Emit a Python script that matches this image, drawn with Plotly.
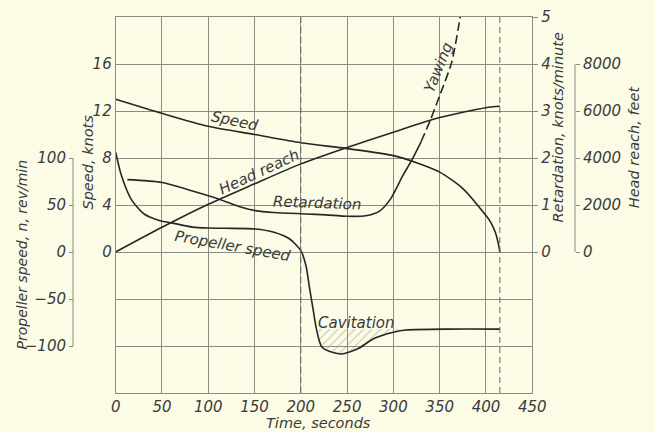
import numpy as np
import plotly.graph_objects as go

# ---------------- data ----------------
speed_t = [0, 50, 100, 150, 200, 250, 300, 325, 350, 375, 400, 405, 410, 413, 415]
speed_kn = [13.0, 11.8, 10.7, 10.0, 9.3, 8.8, 8.2, 7.6, 6.8, 5.4, 3.1, 2.55, 1.7, 0.85, 0.0]

reach_t = [0, 50, 100, 150, 200, 250, 300, 350, 400, 415]
reach_ft = [0, 1050, 2030, 2900, 3750, 4450, 5100, 5720, 6140, 6200]

retard_t = [12.6, 50, 83, 111, 136, 151, 171, 206, 227, 250, 270, 285, 297, 310, 320, 330,
            340, 351, 363, 373]
retard_kpm = [1.54, 1.48, 1.30, 1.13, 0.95, 0.88, 0.84, 0.81, 0.79, 0.76, 0.77, 0.87, 1.13,
              1.62, 1.96, 2.35, 2.81, 3.38, 4.04, 5.10]
yawing_from_t = 330

prop_t = [0, 6.3, 16.8, 30.7, 48, 60.5, 83, 101, 118, 151, 171, 188, 200, 205.6, 209, 212.6,
          217.5, 222.7, 235, 244, 261.5, 279, 300, 314, 360, 415]
prop_rpm = [106, 81, 56, 40.4, 33.3, 31, 26.5, 25.5, 25.2, 24.5, 21, 13.8, 1.4, -14.6, -35.8,
            -57, -85, -101, -107, -108.5, -103, -92, -85.4, -83, -82, -82]
cavitation_level = -82

dashed_times = [200, 415]

x_ticks = list(range(0, 451, 50))
speed_ticks = [0, 4, 8, 12, 16]
prop_ticks = [-100, -50, 0, 50, 100]
retard_ticks = [0, 1, 2, 3, 4, 5]
reach_ticks = [0, 2000, 4000, 6000, 8000]

# ---------------- style ----------------
BG = "#fcfbe6"
INK = "#262626"
TXT = "#3a3a3a"
GRID = "#8c8c84"
FONT = "DejaVu Sans"

W, H = 655, 432
L_PX, R_PX, T_PX, B_PX = 114, 543, 17, 393
def px_x(px):
    return px / W
def px_y(py):
    return (B_PX - py) / (B_PX - T_PX)

tf = dict(family=FONT, size=15, color=TXT, style="italic")

fig = go.Figure()

line = dict(color=INK, width=1.6, shape="spline", smoothing=0.7)

fig.add_trace(go.Scatter(x=speed_t, y=speed_kn, mode="lines", line=line, yaxis="y"))
fig.add_trace(go.Scatter(x=reach_t, y=reach_ft, mode="lines", line=line, yaxis="y4"))

rt = np.array(retard_t); rv = np.array(retard_kpm)
solid = rt <= yawing_from_t
dash = rt >= yawing_from_t
fig.add_trace(go.Scatter(x=rt[solid], y=rv[solid], mode="lines", line=line, yaxis="y3"))
fig.add_trace(go.Scatter(x=rt[dash], y=rv[dash], mode="lines",
                         line=dict(color=INK, width=1.6, dash="9px,4px", shape="spline", smoothing=0.7),
                         yaxis="y3"))

# cavitation hatch between the curve and the cavitation level
pt = np.array(prop_t, float); pv = np.array(prop_rpm, float)
fine_t = np.linspace(pt.min(), pt.max(), 3000)
fine_v = np.interp(fine_t, pt, pv)
mask = fine_v < cavitation_level - 0.5
ct = fine_t[mask]; cv = fine_v[mask]
fig.add_trace(go.Scatter(x=ct, y=[cavitation_level] * len(ct), mode="lines",
                         line=dict(width=0, color="rgba(0,0,0,0)"), yaxis="y2"))
fig.add_trace(go.Scatter(x=ct, y=cv, mode="lines", fill="tonexty",
                         line=dict(width=0, color="rgba(0,0,0,0)"),
                         fillcolor="rgba(0,0,0,0)",
                         fillpattern=dict(shape="/", fgcolor="#8f8f88", bgcolor="rgba(0,0,0,0)",
                                          size=6, solidity=0.18),
                         yaxis="y2"))
fig.add_trace(go.Scatter(x=prop_t, y=prop_rpm, mode="lines", line=line, yaxis="y2"))

shapes = []
for t in dashed_times:
    shapes.append(dict(type="line", xref="x", yref="paper", x0=t, x1=t, y0=0, y1=1,
                       line=dict(color="#666", width=1, dash="6px,4px")))
shapes.append(dict(type="line", xref="paper", yref="y2", x0=px_x(70), x1=px_x(70),
                   y0=min(prop_ticks), y1=max(prop_ticks), line=dict(color=GRID, width=1)))
shapes.append(dict(type="line", xref="paper", yref="y4", x0=px_x(587), x1=px_x(587),
                   y0=min(reach_ticks), y1=max(reach_ticks), line=dict(color=GRID, width=1)))

ann = []
def lab(text, x, y, angle=0, size=15):
    ann.append(dict(text=text, x=x, y=y, xref="x", yref="y", showarrow=False,
                    xanchor="center", yanchor="middle", textangle=angle,
                    font=dict(family=FONT, size=size, color=TXT, style="italic")))
lab("Speed", 129, 11.15, 12)
lab("Head reach", 155, 6.8, -25)
lab("Retardation", 218, 4.17, 2)
lab("Propeller speed", 126, 0.5, 10)
lab("Cavitation", 260, -6.0, 0)
lab("Yawing", 348, 15.7, -68)

def title(text, px, py, angle, size=14.5):
    ann.append(dict(text=text, x=px_x(px), y=px_y(py), xref="paper", yref="paper",
                    showarrow=False, textangle=angle, xanchor="center", yanchor="middle",
                    font=dict(family=FONT, size=size, color=TXT, style="italic")))
title("Propeller speed, n, rev/min", 17, 255, -90, 14)
title("Speed, knots", 85, 162, -90)
title("Retardation, knots/minute", 570, 127, -90)
title("Head reach, feet", 648, 147, -90)
title("Time, seconds", 323, 423, 0)

speed_grid = list(range(-12, 21, 4))
fig.update_layout(
    width=W, height=H, margin=dict(l=0, r=0, t=T_PX, b=H - B_PX),
    paper_bgcolor=BG, plot_bgcolor=BG, showlegend=False,
    shapes=shapes, annotations=ann,
    xaxis=dict(domain=[L_PX / W, R_PX / W], range=[0, 450], tickvals=x_ticks,
               showgrid=True, gridcolor=GRID, gridwidth=0.8, zeroline=False,
               showline=True, mirror=True, linecolor=GRID, linewidth=1, ticks="",
               tickfont=tf),
    yaxis=dict(range=[-12, 20], tickvals=speed_grid,
               ticktext=[str(v) if v in speed_ticks else "" for v in speed_grid],
               showgrid=True, gridcolor=GRID, gridwidth=0.8, zeroline=False,
               showline=True, mirror=True, linecolor=GRID, linewidth=1, ticks="",
               tickfont=tf),
    yaxis2=dict(overlaying="y", anchor="free", position=px_x(70), side="left",
                range=[-150, 250], tickvals=prop_ticks, ticks="outside", ticklen=4,
                tickcolor=GRID, showgrid=False, zeroline=False, showline=False, tickfont=tf),
    yaxis3=dict(overlaying="y", anchor="x", side="right", range=[-3, 5],
                tickvals=retard_ticks, ticks="outside", ticklen=5, tickcolor=GRID,
                showgrid=False, zeroline=False, showline=False, tickfont=tf),
    yaxis4=dict(overlaying="y", anchor="free", position=px_x(587), side="right",
                range=[-6000, 10000], tickvals=reach_ticks, ticks="outside", ticklen=4,
                tickcolor=GRID, showgrid=False, zeroline=False, showline=False, tickfont=tf),
)

fig.write_html("out.html")
